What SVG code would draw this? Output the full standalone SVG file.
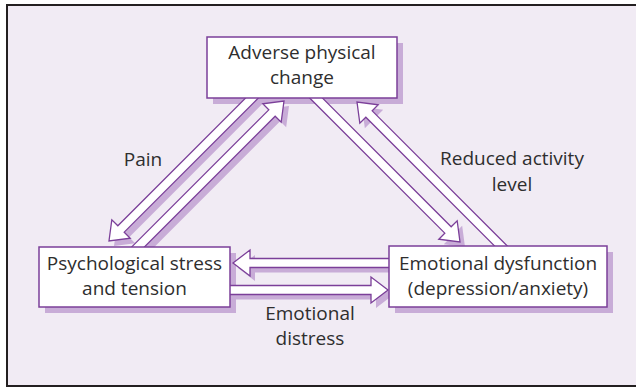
<svg xmlns="http://www.w3.org/2000/svg" xmlns:xlink="http://www.w3.org/1999/xlink" width="636" height="387" viewBox="0 0 636 387">
<style>
.frame{fill:#f1ebf4;stroke:#231f20;stroke-width:2}
.sh{fill:#c8acd7;stroke:none}
.box{fill:#fff;stroke:#7b3f99;stroke-width:1.5}
.arrow{fill:#fff;stroke:#7b3f99;stroke-width:1.3;stroke-linejoin:miter}
.t{font-family:"Open Sans","Noto Sans",sans-serif;font-size:19px;fill:#2e2e2e;text-anchor:middle}
</style>
<defs>
<path id="pA" transform="translate(109,241) rotate(135)" d="M-212,-4.5H-17V-13L0,0L-17,13V4.5H-212"/>
<path id="pB" transform="translate(284,101) rotate(-45)" d="M-215,-4.5H-17V-13L0,0L-17,13V4.5H-215"/>
<path id="pC" transform="translate(460,242) rotate(45)" d="M-212,-4.5H-17V-13L0,0L-17,13V4.5H-212"/>
<path id="pD" transform="translate(357,102) rotate(-135)" d="M-212,-4.5H-17V-13L0,0L-17,13V4.5H-212"/>
<path id="pE" transform="translate(233,263) rotate(180)" d="M-162,-4.5H-17V-13L0,0L-17,13V4.5H-162"/>
<path id="pF" transform="translate(388,290)" d="M-164,-4.5H-17V-13L0,0L-17,13V4.5H-164"/>
</defs>
<rect class="frame" x="7" y="5" width="640" height="381"/>
<g id="shadows" class="sh">
<rect x="213" y="43" width="190" height="61"/>
<rect x="45" y="253" width="191" height="60"/>
<rect x="395" y="252" width="218" height="61"/>
</g>
<g id="connectors">
<g class="sh" transform="translate(5,5)">
<use href="#pA"/><use href="#pB"/><use href="#pC"/><use href="#pD"/><use href="#pE"/><use href="#pF"/>
</g>
<g class="arrow">
<use id="pain" href="#pA"/>
<use id="adverse-feedback" href="#pB"/>
<use id="to-emotional" href="#pC"/>
<use id="reduced-activity" href="#pD"/>
<use id="to-psych" href="#pE"/>
<use id="emotional-distress" href="#pF"/>
</g>
<text class="t" x="143" y="166">Pain</text>
<text class="t" x="512" y="165">Reduced activity</text>
<text class="t" x="512" y="191">level</text>
<text class="t" x="310" y="320">Emotional</text>
<text class="t" x="310" y="345">distress</text>
</g>
<g id="adverse">
<rect class="box" x="207" y="37" width="190" height="61"/>
<text class="t" x="302" y="59">Adverse physical</text>
<text class="t" x="302" y="84">change</text>
</g>
<g id="psych">
<rect class="box" x="39" y="247" width="191" height="60"/>
<text class="t" x="134.5" y="270">Psychological stress</text>
<text class="t" x="134.5" y="295">and tension</text>
</g>
<g id="emotional">
<rect class="box" x="389" y="246" width="218" height="61"/>
<text class="t" x="498" y="270">Emotional dysfunction</text>
<text class="t" x="498" y="295">(depression/anxiety)</text>
</g>
</svg>
